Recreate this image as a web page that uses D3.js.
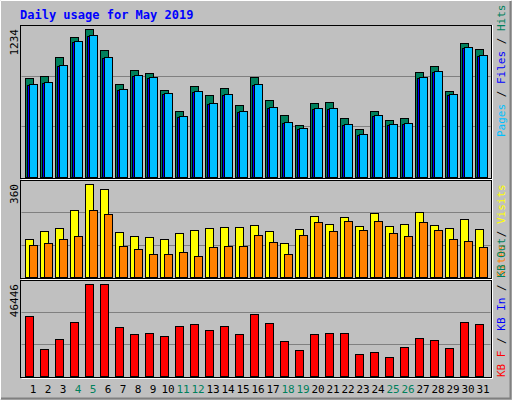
<!DOCTYPE html><html><head><meta charset="utf-8"><script src="https://cdn.jsdelivr.net/npm/d3@7"></script>
<style>body{margin:0;background:#fff}</style></head><body><script>
const days=d3.range(1,32);
const weekend=[4,5,11,12,18,19,25,26];
const hits=[825,842,1001,1167,1234,1059,775,892,867,725,550,759,684,742,600,834,642,517,434,617,625,492,400,550,475,492,875,925,717,1117,1067];
const pages=[775,792,934,1134,1184,1001,734,850,834,700,509,717,617,692,550,775,584,459,409,575,575,442,359,517,442,450,834,884,692,1084,1017];
const files=[767,784,926,1126,1176,993,726,842,826,692,501,709,609,684,542,767,576,451,401,567,567,434,351,509,434,442,826,876,684,1076,1009];
const visits=[146,177,189,259,360,340,173,158,154,146,170,181,189,193,193,201,177,131,185,236,204,232,197,247,197,204,251,201,189,224,185];
const sites=[123,131,146,158,259,244,119,107,88,88,96,80,115,119,119,162,135,88,162,212,177,216,181,216,170,158,212,181,146,139,115];
const kbytes=[30238,13524,18589,27199,46446,46446,24667,21121,21628,20108,25173,26186,23147,25173,21121,31251,26693,17576,13017,21121,21628,21628,10991,12004,9472,14537,19095,18082,14030,27199,26186];
const maxLabels=["1234","360","46446"];

const svg=d3.select("body").append("svg").attr("width",512).attr("height",400);
svg.append("rect").attr("width",512).attr("height",400).attr("fill","#c0c0c0");
svg.append("path").attr("d","M0.5,399.5V0.5H511.5").attr("stroke","#fff").attr("fill","none");
svg.append("path").attr("d","M1,398.5H510.5V1").attr("stroke","#808080").attr("stroke-width",2).attr("fill","none");
svg.append("text").attr("x",20).attr("y",19).text("Daily usage for May 2019").attr("fill","#0000ff").attr("font-family","DejaVu Sans Mono").attr("font-weight","bold").attr("font-size",12);

const x=d3.scaleLinear().domain([1,32]).range([25,490]);
const L=20.5,R=491.5;
const panels=[{t:25,b:177,top:29,max:1234},{t:180,b:277,top:184,max:360},{t:280,b:376,top:284,max:46446}];
const ys=[];
panels.forEach((p,i)=>{
  svg.append("rect").attr("x",L).attr("y",p.t+0.5).attr("width",R-L).attr("height",p.b-p.t+1).attr("fill","none").attr("stroke","#000");
  svg.append("path").attr("d",`M${L+1},${p.b+2.5}H${R+1}V${p.t}`).attr("stroke","#fff").attr("fill","none");
  const h=p.b-p.t;
  [1,2].forEach(k=>svg.append("line").attr("x1",L+1).attr("x2",R-1).attr("y1",Math.round(p.t+h*k/3)+0.5).attr("y2",Math.round(p.t+h*k/3)+0.5).attr("stroke","#808080"));
  ys.push(d3.scaleLinear().domain([0,p.max]).range([p.b,p.top]));
  svg.append("text").attr("transform",`translate(18,${p.t+4}) rotate(-90)`).attr("text-anchor","end").text(maxLabels[i]).attr("font-family","DejaVu Sans Mono").attr("font-size",11);
});
function bars(data,y,off,w,col){
  svg.append("g").selectAll("rect").data(data).join("rect")
   .attr("x",(d,i)=>x(days[i])+off+0.5).attr("width",w).attr("y",d=>Math.round(y(d))+0.5).attr("height",d=>y(0)-Math.round(y(d)))
   .attr("fill",col).attr("stroke","#000");
}
bars(hits,ys[0],0,8,"#00805c");
bars(files,ys[0],2,8,"#0000ff");
bars(pages,ys[0],4,8,"#00c0ff");
bars(visits,ys[1],0,8,"#ffff00");
bars(sites,ys[1],4,8,"#ff8000");
bars(kbytes,ys[2],0,8,"#ff0000");
svg.append("g").selectAll("text").data(days).join("text").attr("x",d=>x(d)+8).attr("y",393).attr("text-anchor","middle")
 .text(d=>d).attr("font-family","DejaVu Sans Mono").attr("font-size",11).attr("fill",d=>weekend.includes(d)?"#00805c":"#000");
function legend(y0,parts){
  const t=svg.append("text").attr("transform",`translate(505,${y0}) rotate(-90)`).attr("font-family","DejaVu Sans Mono").attr("font-size",11);
  parts.forEach(([s,c])=>t.append("tspan").text(s).attr("fill",c));
}
legend(137,[["Pages","#00c0ff"],[" / ","#000"],["Files","#0000ff"],[" / ","#000"],["Hits","#00805c"]]);
legend(277,[["Sites","#ff8000"],[" / ","#000"],["Visits","#ffff00"]]);
legend(377,[["KB F","#ff0000"],[" / ","#000"],["KB In","#0000ff"],[" / ","#000"],["KB Out","#00805c"]]);
</script></body></html>
